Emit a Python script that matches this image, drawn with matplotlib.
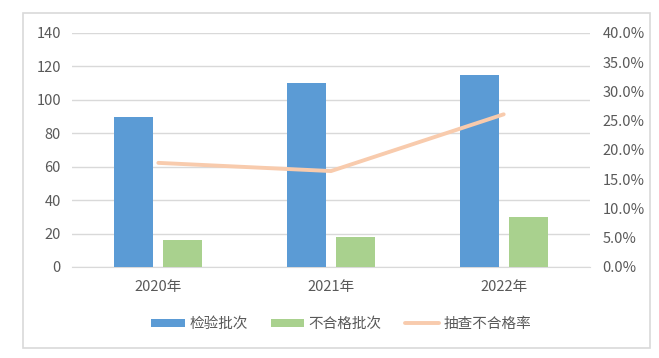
import matplotlib.pyplot as plt
import numpy as np
from matplotlib.patches import Rectangle
from matplotlib.ticker import FuncFormatter, MultipleLocator

plt.rcParams['font.family'] = ['Noto Sans CJK SC', 'DejaVu Sans']

# Data
years = ['2020年', '2021年', '2022年']
inspected = [90, 110, 115]
failed = [16, 18, 30]
fail_rate = [17.8, 16.4, 26.1]  # percent

blue = '#5B9BD5'
green = '#A9D18E'
orange = '#F8CBAD'
grid_c = '#D9D9D9'
text_c = '#595959'

fig = plt.figure(figsize=(6.59, 3.58), dpi=100)
W, H = 659, 358

# outer chart border
fig.patches.append(Rectangle((23 / W, 1 - 348 / H), (650 - 23) / W, (348 - 13) / H,
                             transform=fig.transFigure, fill=False,
                             edgecolor=grid_c, linewidth=1.2))

ax = fig.add_axes([72 / W, 1 - 267 / H, (590 - 72) / W, (267 - 33) / H])
ax2 = ax.twinx()

x = np.arange(len(years))
bw = 0.226
off = 0.141
b1 = ax.bar(x - off, inspected, bw, color=blue, label='检验批次', zorder=3)
b2 = ax.bar(x + off, failed, bw, color=green, label='不合格批次', zorder=3)
l1, = ax2.plot(x, fail_rate, color=orange, linewidth=2.8, solid_capstyle='round',
               label='抽查不合格率', zorder=4)

ax.set_xlim(-0.5, 2.5)
ax.set_ylim(0, 140)
ax.yaxis.set_major_locator(MultipleLocator(20))
ax2.set_ylim(0, 40)
ax2.yaxis.set_major_locator(MultipleLocator(5))
ax2.yaxis.set_major_formatter(FuncFormatter(lambda v, p: f'{v:.1f}%'))

ax.set_xticks(x)
ax.set_xticklabels(years)
ax.grid(axis='y', color=grid_c, linewidth=1, zorder=0)
ax.set_axisbelow(True)

for a in (ax, ax2):
    for s in a.spines.values():
        s.set_visible(False)
    a.tick_params(length=0, labelsize=10.5, labelcolor=text_c)
ax.spines['bottom'].set_visible(True)
ax.spines['bottom'].set_color(grid_c)
ax.tick_params(axis='y', pad=8)
ax2.tick_params(axis='y', pad=9)
ax.tick_params(axis='x', pad=9)

fig.legend(handles=[b1, b2, l1], loc='center', bbox_to_anchor=(341 / W, 1 - 324 / H),
           ncol=3, frameon=False, fontsize=10.5, labelcolor=text_c,
           handlelength=2.3, handleheight=0.5, handletextpad=0.3, columnspacing=1.6)

fig.savefig('out.png', dpi=100)
